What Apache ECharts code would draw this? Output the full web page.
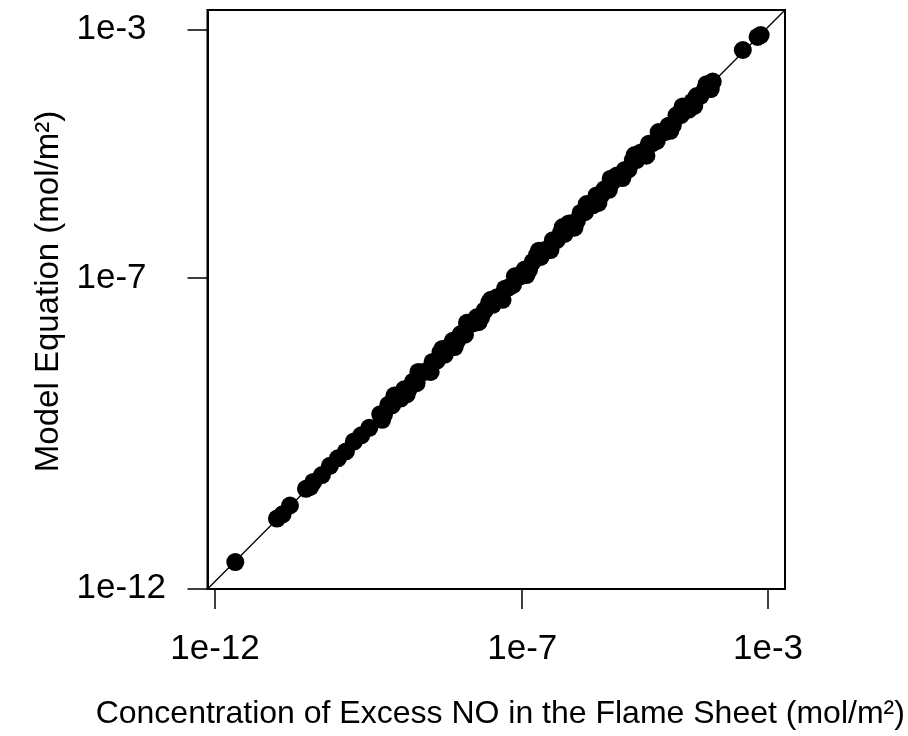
<!DOCTYPE html>
<html>
<head>
<meta charset="utf-8">
<script src="https://cdn.jsdelivr.net/npm/echarts@6/dist/echarts.min.js"></script>
<style>
  html, body { margin: 0; padding: 0; background: #fff; }
  #chart { width: 908px; height: 736px; }
</style>
</head>
<body>
<div id="chart"></div>
<script>
// Excess NO in the flame sheet (x) vs model equation (y), mol/m^2
const excessNO = [
  2.14e-12, 1.02e-11, 1.26e-11, 1.66e-11, 3.02e-11, 3.55e-11, 3.98e-11,
  5.50e-11, 7.41e-11, 1.00e-10, 1.35e-10, 1.82e-10, 2.40e-10, 3.24e-10,
  4.90e-10, 5.62e-10, 6.61e-10, 7.59e-10, 8.91e-10, 1.05e-9, 1.20e-9, 1.41e-9,
  1.66e-9, 1.91e-9, 2.24e-9, 2.57e-9, 3.02e-9, 3.47e-9, 4.07e-9, 4.68e-9,
  5.50e-9, 6.31e-9, 7.41e-9, 8.71e-9, 1.00e-8, 1.17e-8, 1.35e-8, 1.58e-8,
  1.82e-8, 2.14e-8, 2.45e-8, 2.88e-8, 3.31e-8, 3.89e-8, 4.47e-8, 5.25e-8,
  6.03e-8, 7.08e-8, 8.13e-8, 9.55e-8, 1.10e-7, 1.29e-7, 1.48e-7, 1.74e-7,
  2.00e-7, 2.34e-7, 2.69e-7, 3.16e-7, 3.63e-7, 4.27e-7, 4.90e-7, 5.75e-7,
  6.61e-7, 7.76e-7, 8.91e-7, 1.05e-6, 1.20e-6, 1.41e-6, 1.62e-6, 1.91e-6,
  2.19e-6, 2.57e-6, 2.95e-6, 3.47e-6, 3.98e-6, 4.68e-6, 5.37e-6, 6.31e-6,
  7.24e-6, 8.51e-6, 9.77e-6, 1.15e-5, 1.32e-5, 1.55e-5, 1.78e-5, 2.09e-5,
  2.40e-5, 2.82e-5, 3.24e-5, 3.80e-5, 4.37e-5, 5.13e-5, 5.89e-5, 6.92e-5,
  7.94e-5, 9.33e-5, 1.07e-4, 1.26e-4, 3.89e-4, 6.76e-4, 7.59e-4,
  5.25e-10, 8.32e-10, 1.32e-9, 2.04e-9, 3.24e-9, 5.01e-9, 7.94e-9, 1.26e-8,
  1.95e-8, 3.09e-8, 4.79e-8, 7.59e-8, 1.17e-7, 1.86e-7, 2.88e-7, 4.57e-7,
  7.08e-7, 1.12e-6, 1.74e-6, 2.75e-6, 4.27e-6, 6.76e-6, 1.05e-5, 1.66e-5,
  2.57e-5, 4.07e-5, 6.31e-5, 1.00e-4, 1.17e-4
];
const modelEq = [
  2.69e-12, 1.35e-11, 1.58e-11, 2.19e-11, 4.07e-11, 4.37e-11, 5.25e-11,
  6.76e-11, 9.55e-11, 1.26e-10, 1.62e-10, 2.34e-10, 2.95e-10, 3.89e-10,
  6.46e-10, 6.31e-10, 9.12e-10, 8.91e-10, 1.12e-9, 1.15e-9, 1.62e-9, 1.62e-9,
  2.14e-9, 2.04e-9, 3.02e-9, 3.09e-9, 3.31e-9, 4.47e-9, 4.68e-9, 6.46e-9,
  5.89e-9, 7.76e-9, 9.77e-9, 9.77e-9, 1.26e-8, 1.23e-8, 1.82e-8, 1.86e-8,
  2.34e-8, 2.34e-8, 3.02e-8, 3.98e-8, 3.72e-8, 4.90e-8, 4.68e-8, 6.76e-8,
  7.08e-8, 7.76e-8, 1.07e-7, 1.07e-7, 1.38e-7, 1.35e-7, 1.82e-7, 2.34e-7,
  2.19e-7, 2.82e-7, 2.88e-7, 4.07e-7, 4.07e-7, 5.37e-7, 5.13e-7, 7.59e-7,
  7.59e-7, 8.32e-7, 1.12e-6, 1.15e-6, 1.45e-6, 1.48e-6, 2.14e-6, 2.14e-6,
  2.69e-6, 2.63e-6, 3.55e-6, 4.47e-6, 4.27e-6, 5.50e-6, 5.62e-6, 7.94e-6,
  7.94e-6, 1.05e-5, 1.00e-5, 1.45e-5, 1.48e-5, 1.62e-5, 2.19e-5, 2.24e-5,
  2.82e-5, 2.88e-5, 4.17e-5, 4.17e-5, 5.25e-5, 5.13e-5, 6.92e-5, 8.51e-5,
  8.51e-5, 1.07e-4, 1.12e-4, 1.45e-4, 4.68e-4, 7.59e-4, 8.13e-4,
  5.25e-10, 1.29e-9, 1.35e-9, 3.09e-9, 3.09e-9, 7.24e-9, 7.76e-9, 1.91e-8,
  1.95e-8, 4.47e-8, 4.47e-8, 1.07e-7, 1.12e-7, 2.75e-7, 2.82e-7, 6.61e-7,
  6.46e-7, 1.55e-6, 1.62e-6, 3.98e-6, 4.07e-6, 9.55e-6, 9.33e-6, 2.24e-5,
  2.34e-5, 5.75e-5, 5.89e-5, 1.32e-4, 1.10e-4
];
const tickValues = [1e-12, 1e-7, 1e-3];
const tickLabels = ['1e-12', '1e-7', '1e-3'];
const xTitle = 'Concentration of Excess NO in the Flame Sheet (mol/m²)';
const yTitle = 'Model Equation (mol/m²)';

// axis extents (visible plot window)
const X_MIN = 7.55e-13, X_MAX = 1.89e-3;
const Y_MIN = 9.93e-13, Y_MAX = 2.06e-3;

const points = excessNO.map((x, i) => [x, modelEq[i]]);
const fmt = v => {
  const e = Math.round(Math.log10(v));
  const idx = tickValues.findIndex(t => Math.abs(Math.log10(t) - e) < 1e-6);
  return idx >= 0 ? tickLabels[idx] : '';
};

const chart = echarts.init(document.getElementById('chart'), null, { renderer: 'canvas' });
const FONT = '"Liberation Sans", Arial, Helvetica, sans-serif';
chart.setOption({
  backgroundColor: '#ffffff',
  animation: false,
  grid: {
    left: 207.5, top: 10, right: 123, bottom: 147,
    show: true, borderColor: '#000', borderWidth: 2, backgroundColor: 'transparent'
  },
  xAxis: {
    type: 'log', logBase: 10, min: X_MIN, max: X_MAX,
    name: xTitle, nameLocation: 'middle', nameGap: 109,
    nameTextStyle: { fontFamily: FONT, fontSize: 32, color: '#000', padding: [0, 0, 0, 8] },
    axisLine: { show: true, lineStyle: { color: '#000', width: 2 } },
    axisTick: { show: true, length: 20, inside: false, customValues: tickValues,
                lineStyle: { color: '#000', width: 1.5 } },
    axisLabel: { show: true, customValues: tickValues, formatter: fmt, margin: 43,
                 fontFamily: FONT, fontSize: 35, color: '#000' },
    splitLine: { show: false }, minorTick: { show: false }
  },
  yAxis: {
    type: 'log', logBase: 10, min: Y_MIN, max: Y_MAX,
    name: yTitle, nameLocation: 'middle', nameGap: 126, nameRotate: 90,
    nameTextStyle: { fontFamily: FONT, fontSize: 33, color: '#000', padding: [0, 0, 0, 16] },
    axisLine: { show: true, lineStyle: { color: '#000', width: 2 } },
    axisTick: { show: true, length: 20, inside: false, customValues: tickValues,
                lineStyle: { color: '#000', width: 1.5 } },
    axisLabel: { show: true, customValues: tickValues, formatter: fmt, margin: 131,
                 align: 'left', fontFamily: FONT, fontSize: 35, color: '#000' },
    splitLine: { show: false }, minorTick: { show: false }
  },
  series: [
    {
      type: 'line',
      data: [[X_MIN, Y_MIN], [X_MAX, Y_MAX]],
      symbol: 'none', clip: true, silent: true, z: 1,
      lineStyle: { color: '#000', width: 1.3 }
    },
    {
      type: 'scatter',
      data: points,
      symbol: 'circle', symbolSize: 18, z: 2,
      itemStyle: { color: '#000', opacity: 1 }
    }
  ]
});
</script>
</body>
</html>
